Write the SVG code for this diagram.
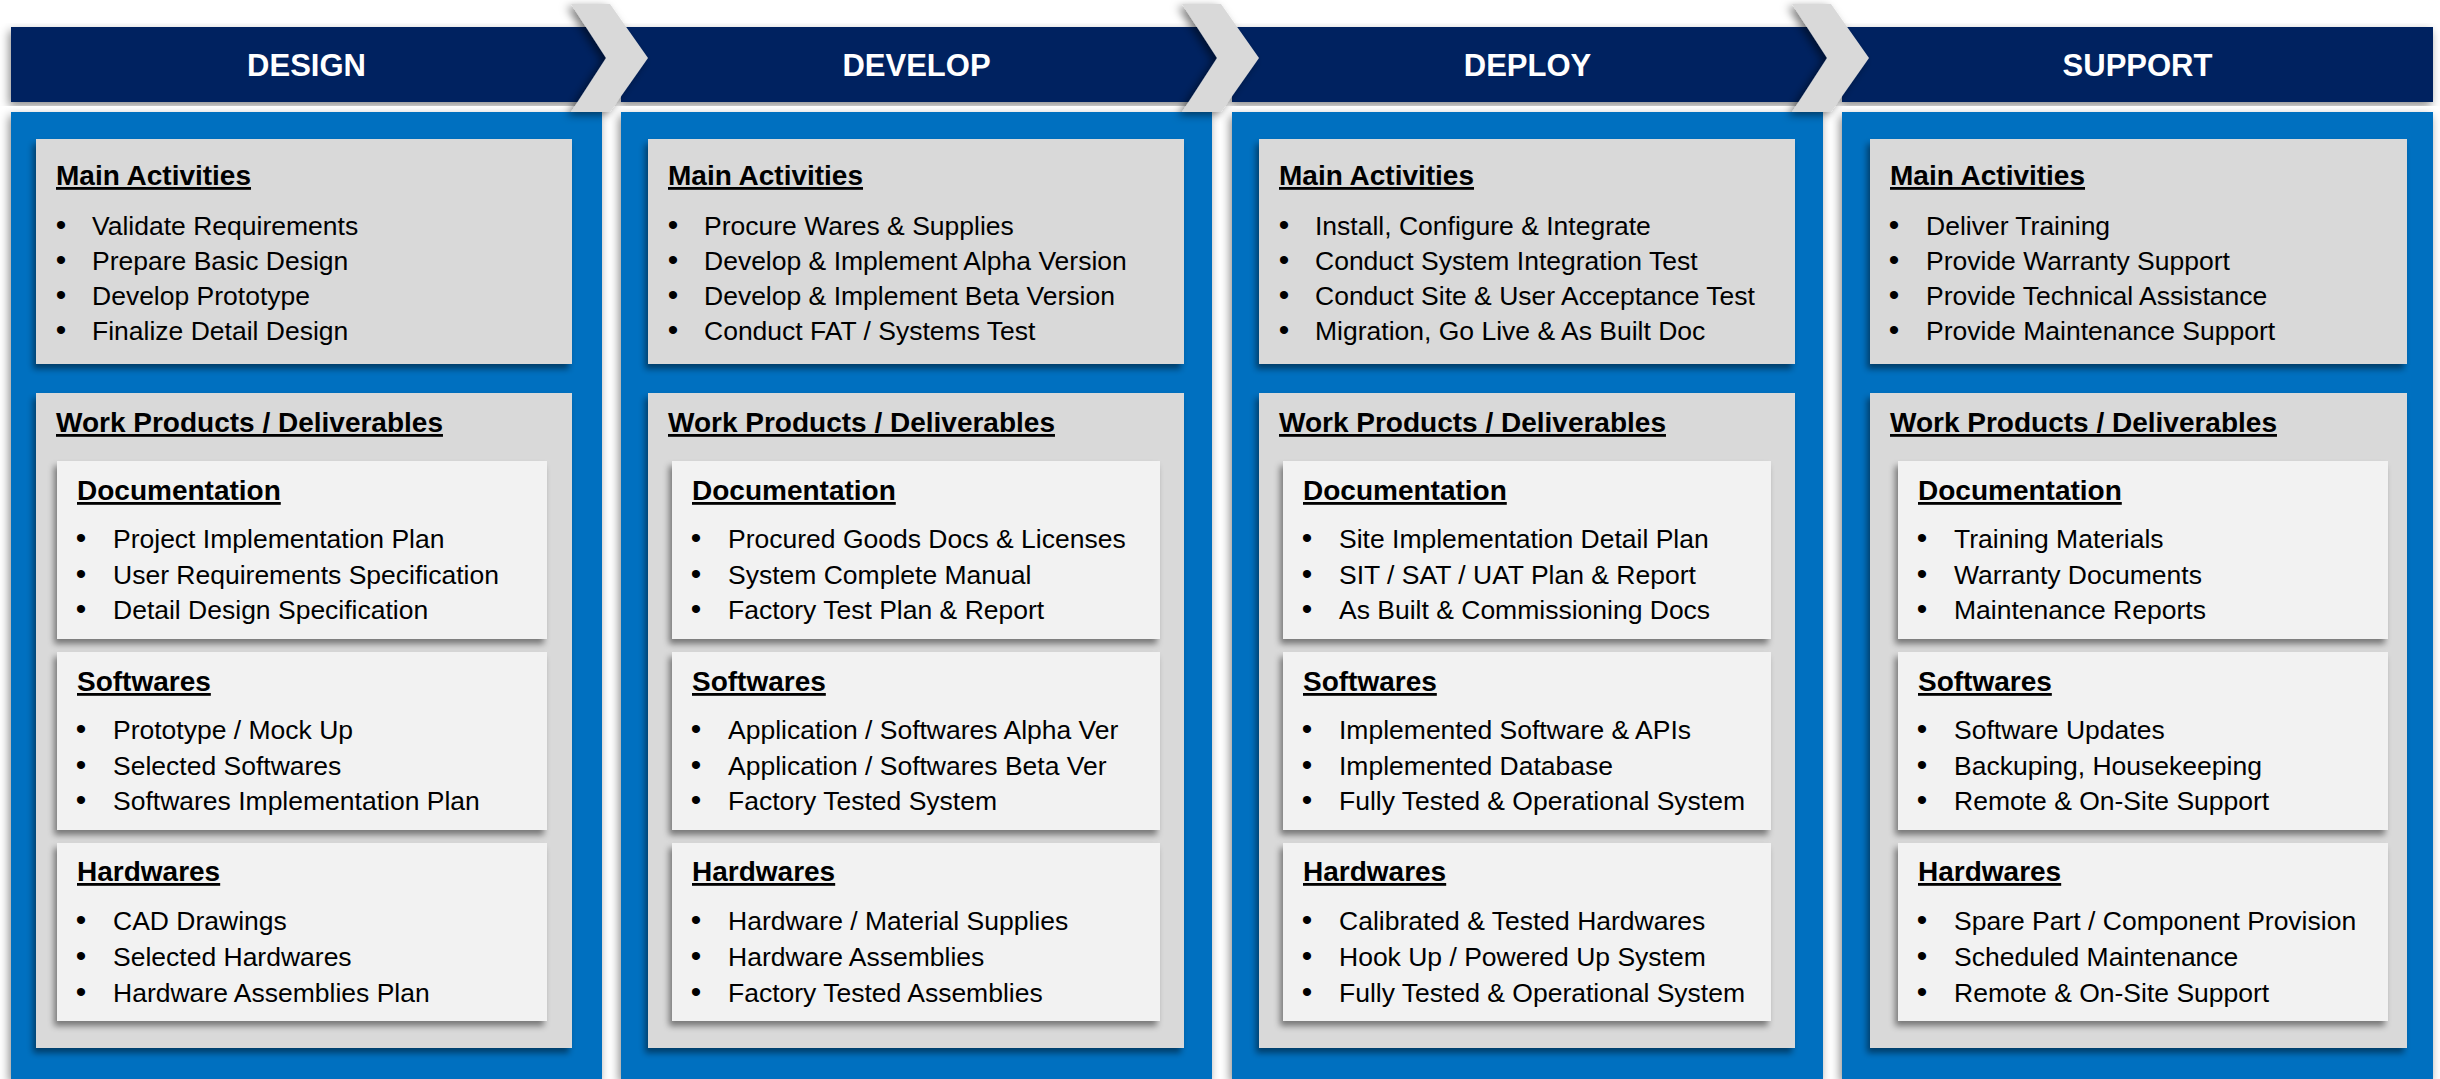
<svg xmlns="http://www.w3.org/2000/svg" width="2440" height="1079" viewBox="0 0 2440 1079">
<defs>
<style>
.hdr{fill:#002060}
.pan{fill:#0070c0}
.gb{fill:#d9d9d9}
.ib{fill:#f2f2f2}
.chev{fill:#d9d9d9}
.t{font-family:"Liberation Sans",Arial,sans-serif;font-size:26.5px;fill:#000}
.bl{font-family:"Liberation Sans",Arial,sans-serif;font-size:30px;fill:#000;text-anchor:middle}
.h{font-family:"Liberation Sans",Arial,sans-serif;font-size:28px;font-weight:bold;fill:#000;text-decoration:underline}
.title{font-family:"Liberation Sans",Arial,sans-serif;font-size:31px;font-weight:bold;fill:#fff;text-anchor:middle}
</style>
<filter id="shp" x="-5%" y="-5%" width="110%" height="110%"><feDropShadow dx="-2" dy="4" stdDeviation="5" flood-color="#000" flood-opacity="0.45"/></filter>
<filter id="shb" x="-5%" y="-10%" width="110%" height="125%"><feDropShadow dx="-3" dy="5" stdDeviation="3" flood-color="#000" flood-opacity="0.45"/></filter>
<filter id="shc" x="-40%" y="-10%" width="160%" height="125%"><feDropShadow dx="-4" dy="3" stdDeviation="4" flood-color="#000" flood-opacity="0.5"/></filter>
</defs>
<rect width="2440" height="1079" fill="#fff"/>

<g id="headers">
<rect class="hdr" x="11" y="27" width="600" height="75" filter="url(#shp)"/>
<rect class="hdr" x="621" y="27" width="600" height="75" filter="url(#shp)"/>
<rect class="hdr" x="1232" y="27" width="600" height="75" filter="url(#shp)"/>
<rect class="hdr" x="1842" y="27" width="591" height="75" filter="url(#shp)"/>
</g>

<g id="design">
<rect class="pan" x="11" y="112" width="591" height="967" filter="url(#shp)"/>
<text class="title" x="306.5" y="76">DESIGN</text>
<rect class="gb" x="36" y="139" width="536" height="225" filter="url(#shb)"/>
<text class="h" x="56" y="185">Main Activities</text>
<text class="bl" x="61" y="235">•</text><text class="t" x="92" y="235">Validate Requirements</text>
<text class="bl" x="61" y="270">•</text><text class="t" x="92" y="270">Prepare Basic Design</text>
<text class="bl" x="61" y="305">•</text><text class="t" x="92" y="305">Develop Prototype</text>
<text class="bl" x="61" y="340">•</text><text class="t" x="92" y="340">Finalize Detail Design</text>
<rect class="gb" x="36" y="393" width="536" height="655" filter="url(#shb)"/>
<text class="h" x="56" y="432">Work Products / Deliverables</text>
<rect class="ib" x="57" y="461" width="490" height="178" filter="url(#shb)"/>
<text class="h" x="77" y="500">Documentation</text>
<text class="bl" x="81" y="548">•</text><text class="t" x="113" y="548">Project Implementation Plan</text>
<text class="bl" x="81" y="583.5">•</text><text class="t" x="113" y="583.5">User Requirements Specification</text>
<text class="bl" x="81" y="619">•</text><text class="t" x="113" y="619">Detail Design Specification</text>
<rect class="ib" x="57" y="652" width="490" height="178" filter="url(#shb)"/>
<text class="h" x="77" y="691">Softwares</text>
<text class="bl" x="81" y="739">•</text><text class="t" x="113" y="739">Prototype / Mock Up</text>
<text class="bl" x="81" y="774.5">•</text><text class="t" x="113" y="774.5">Selected Softwares</text>
<text class="bl" x="81" y="810">•</text><text class="t" x="113" y="810">Softwares Implementation Plan</text>
<rect class="ib" x="57" y="843" width="490" height="178" filter="url(#shb)"/>
<text class="h" x="77" y="881">Hardwares</text>
<text class="bl" x="81" y="930">•</text><text class="t" x="113" y="930">CAD Drawings</text>
<text class="bl" x="81" y="966">•</text><text class="t" x="113" y="966">Selected Hardwares</text>
<text class="bl" x="81" y="1002">•</text><text class="t" x="113" y="1002">Hardware Assemblies Plan</text>
</g>

<g id="develop">
<rect class="pan" x="621" y="112" width="591" height="967" filter="url(#shp)"/>
<text class="title" x="916.5" y="76">DEVELOP</text>
<rect class="gb" x="648" y="139" width="536" height="225" filter="url(#shb)"/>
<text class="h" x="668" y="185">Main Activities</text>
<text class="bl" x="673" y="235">•</text><text class="t" x="704" y="235">Procure Wares &amp; Supplies</text>
<text class="bl" x="673" y="270">•</text><text class="t" x="704" y="270">Develop &amp; Implement Alpha Version</text>
<text class="bl" x="673" y="305">•</text><text class="t" x="704" y="305">Develop &amp; Implement Beta Version</text>
<text class="bl" x="673" y="340">•</text><text class="t" x="704" y="340">Conduct FAT / Systems Test</text>
<rect class="gb" x="648" y="393" width="536" height="655" filter="url(#shb)"/>
<text class="h" x="668" y="432">Work Products / Deliverables</text>
<rect class="ib" x="672" y="461" width="488" height="178" filter="url(#shb)"/>
<text class="h" x="692" y="500">Documentation</text>
<text class="bl" x="696" y="548">•</text><text class="t" x="728" y="548">Procured Goods Docs &amp; Licenses</text>
<text class="bl" x="696" y="583.5">•</text><text class="t" x="728" y="583.5">System Complete Manual</text>
<text class="bl" x="696" y="619">•</text><text class="t" x="728" y="619">Factory Test Plan &amp; Report</text>
<rect class="ib" x="672" y="652" width="488" height="178" filter="url(#shb)"/>
<text class="h" x="692" y="691">Softwares</text>
<text class="bl" x="696" y="739">•</text><text class="t" x="728" y="739">Application / Softwares Alpha Ver</text>
<text class="bl" x="696" y="774.5">•</text><text class="t" x="728" y="774.5">Application / Softwares Beta Ver</text>
<text class="bl" x="696" y="810">•</text><text class="t" x="728" y="810">Factory Tested System</text>
<rect class="ib" x="672" y="843" width="488" height="178" filter="url(#shb)"/>
<text class="h" x="692" y="881">Hardwares</text>
<text class="bl" x="696" y="930">•</text><text class="t" x="728" y="930">Hardware / Material Supplies</text>
<text class="bl" x="696" y="966">•</text><text class="t" x="728" y="966">Hardware Assemblies</text>
<text class="bl" x="696" y="1002">•</text><text class="t" x="728" y="1002">Factory Tested Assemblies</text>
</g>

<g id="deploy">
<rect class="pan" x="1232" y="112" width="591" height="967" filter="url(#shp)"/>
<text class="title" x="1527.5" y="76">DEPLOY</text>
<rect class="gb" x="1259" y="139" width="536" height="225" filter="url(#shb)"/>
<text class="h" x="1279" y="185">Main Activities</text>
<text class="bl" x="1284" y="235">•</text><text class="t" x="1315" y="235">Install, Configure &amp; Integrate</text>
<text class="bl" x="1284" y="270">•</text><text class="t" x="1315" y="270">Conduct System Integration Test</text>
<text class="bl" x="1284" y="305">•</text><text class="t" x="1315" y="305">Conduct Site &amp; User Acceptance Test</text>
<text class="bl" x="1284" y="340">•</text><text class="t" x="1315" y="340">Migration, Go Live &amp; As Built Doc</text>
<rect class="gb" x="1259" y="393" width="536" height="655" filter="url(#shb)"/>
<text class="h" x="1279" y="432">Work Products / Deliverables</text>
<rect class="ib" x="1283" y="461" width="488" height="178" filter="url(#shb)"/>
<text class="h" x="1303" y="500">Documentation</text>
<text class="bl" x="1307" y="548">•</text><text class="t" x="1339" y="548">Site Implementation Detail Plan</text>
<text class="bl" x="1307" y="583.5">•</text><text class="t" x="1339" y="583.5">SIT / SAT / UAT Plan &amp; Report</text>
<text class="bl" x="1307" y="619">•</text><text class="t" x="1339" y="619">As Built &amp; Commissioning Docs</text>
<rect class="ib" x="1283" y="652" width="488" height="178" filter="url(#shb)"/>
<text class="h" x="1303" y="691">Softwares</text>
<text class="bl" x="1307" y="739">•</text><text class="t" x="1339" y="739">Implemented Software &amp; APIs</text>
<text class="bl" x="1307" y="774.5">•</text><text class="t" x="1339" y="774.5">Implemented Database</text>
<text class="bl" x="1307" y="810">•</text><text class="t" x="1339" y="810">Fully Tested &amp; Operational System</text>
<rect class="ib" x="1283" y="843" width="488" height="178" filter="url(#shb)"/>
<text class="h" x="1303" y="881">Hardwares</text>
<text class="bl" x="1307" y="930">•</text><text class="t" x="1339" y="930">Calibrated &amp; Tested Hardwares</text>
<text class="bl" x="1307" y="966">•</text><text class="t" x="1339" y="966">Hook Up / Powered Up System</text>
<text class="bl" x="1307" y="1002">•</text><text class="t" x="1339" y="1002">Fully Tested &amp; Operational System</text>
</g>

<g id="support">
<rect class="pan" x="1842" y="112" width="591" height="967" filter="url(#shp)"/>
<text class="title" x="2137.5" y="76">SUPPORT</text>
<rect class="gb" x="1870" y="139" width="537" height="225" filter="url(#shb)"/>
<text class="h" x="1890" y="185">Main Activities</text>
<text class="bl" x="1894" y="235">•</text><text class="t" x="1926" y="235">Deliver Training</text>
<text class="bl" x="1894" y="270">•</text><text class="t" x="1926" y="270">Provide Warranty Support</text>
<text class="bl" x="1894" y="305">•</text><text class="t" x="1926" y="305">Provide Technical Assistance</text>
<text class="bl" x="1894" y="340">•</text><text class="t" x="1926" y="340">Provide Maintenance Support</text>
<rect class="gb" x="1870" y="393" width="537" height="655" filter="url(#shb)"/>
<text class="h" x="1890" y="432">Work Products / Deliverables</text>
<rect class="ib" x="1898" y="461" width="490" height="178" filter="url(#shb)"/>
<text class="h" x="1918" y="500">Documentation</text>
<text class="bl" x="1922" y="548">•</text><text class="t" x="1954" y="548">Training Materials</text>
<text class="bl" x="1922" y="583.5">•</text><text class="t" x="1954" y="583.5">Warranty Documents</text>
<text class="bl" x="1922" y="619">•</text><text class="t" x="1954" y="619">Maintenance Reports</text>
<rect class="ib" x="1898" y="652" width="490" height="178" filter="url(#shb)"/>
<text class="h" x="1918" y="691">Softwares</text>
<text class="bl" x="1922" y="739">•</text><text class="t" x="1954" y="739">Software Updates</text>
<text class="bl" x="1922" y="774.5">•</text><text class="t" x="1954" y="774.5">Backuping, Housekeeping</text>
<text class="bl" x="1922" y="810">•</text><text class="t" x="1954" y="810">Remote &amp; On-Site Support</text>
<rect class="ib" x="1898" y="843" width="490" height="178" filter="url(#shb)"/>
<text class="h" x="1918" y="881">Hardwares</text>
<text class="bl" x="1922" y="930">•</text><text class="t" x="1954" y="930">Spare Part / Component Provision</text>
<text class="bl" x="1922" y="966">•</text><text class="t" x="1954" y="966">Scheduled Maintenance</text>
<text class="bl" x="1922" y="1002">•</text><text class="t" x="1954" y="1002">Remote &amp; On-Site Support</text>
</g>

<g id="connectors">
<polygon class="chev" points="571,4 610,4 648,58 610,112 571,112 606,58" filter="url(#shc)"/>
<polygon class="chev" points="1182,4 1221,4 1259,58 1221,112 1182,112 1217,58" filter="url(#shc)"/>
<polygon class="chev" points="1792,4 1831,4 1869,58 1831,112 1792,112 1827,58" filter="url(#shc)"/>
</g>
</svg>
